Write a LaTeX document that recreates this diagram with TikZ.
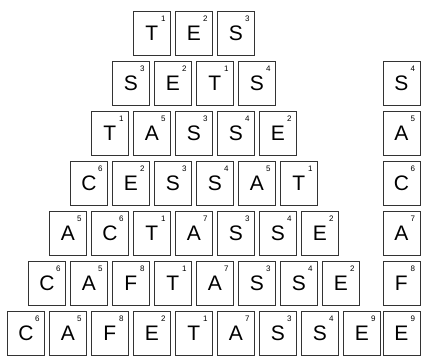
\documentclass[tikz,border=0pt]{standalone}
\usepackage{fontspec}
\setmainfont{Liberation Sans}
\usepackage{tikz}
\usetikzlibrary{positioning}

% one row of tiles: #1 row name, #2 left x, #3 top y, #4 letter/value list
\newcommand{\tilerow}[4]{%
  \foreach \l/\v [count=\i] in {#4} {
    \node[tile] (#1t\i) at ({#2+(\i-1)*42}, #3) {\l};
    \node[pts] (#1p\i) at ([xshift=-7.5pt, yshift=-7.5pt]#1t\i.north east) {\v};
  }%
}

\begin{document}
\begin{tikzpicture}[
    x=1pt, y=-1pt,
    tile/.style={rectangle, draw=black!80, line width=0.8pt, anchor=north west,
      minimum width=37pt, minimum height=44pt, inner sep=0pt,
      text height=15pt, text depth=0pt, font=\fontsize{21}{21}\selectfont},
    pts/.style={inner sep=0pt, font=\fontsize{8}{8}\selectfont}
]
\useasboundingbox (0,0) rectangle (421,356);

% Pyramid of words
\tilerow{a}{133}{11}{T/1,E/2,S/3}
\tilerow{b}{112}{61}{S/3,E/2,T/1,S/4}
\tilerow{c}{91}{111}{T/1,A/5,S/3,S/4,E/2}
\tilerow{d}{70}{161}{C/6,E/2,S/3,S/4,A/5,T/1}
\tilerow{e}{49}{211}{A/5,C/6,T/1,A/7,S/3,S/4,E/2}
\tilerow{f}{28}{261}{C/6,A/5,F/8,T/1,A/7,S/3,S/4,E/2}
\tilerow{g}{7}{311}{C/6,A/5,F/8,E/2,T/1,A/7,S/3,S/4,E/9}

% Added letters
\foreach \l/\v/\y [count=\i] in {S/4/61,A/5/111,C/6/161,A/7/211,F/8/261,E/9/311} {
  \node[tile] (xt\i) at (382.5, \y) {\l};
  \node[pts] (xp\i) at ([xshift=-7.5pt, yshift=-7.5pt]xt\i.north east) {\v};
}

\end{tikzpicture}
\end{document}
